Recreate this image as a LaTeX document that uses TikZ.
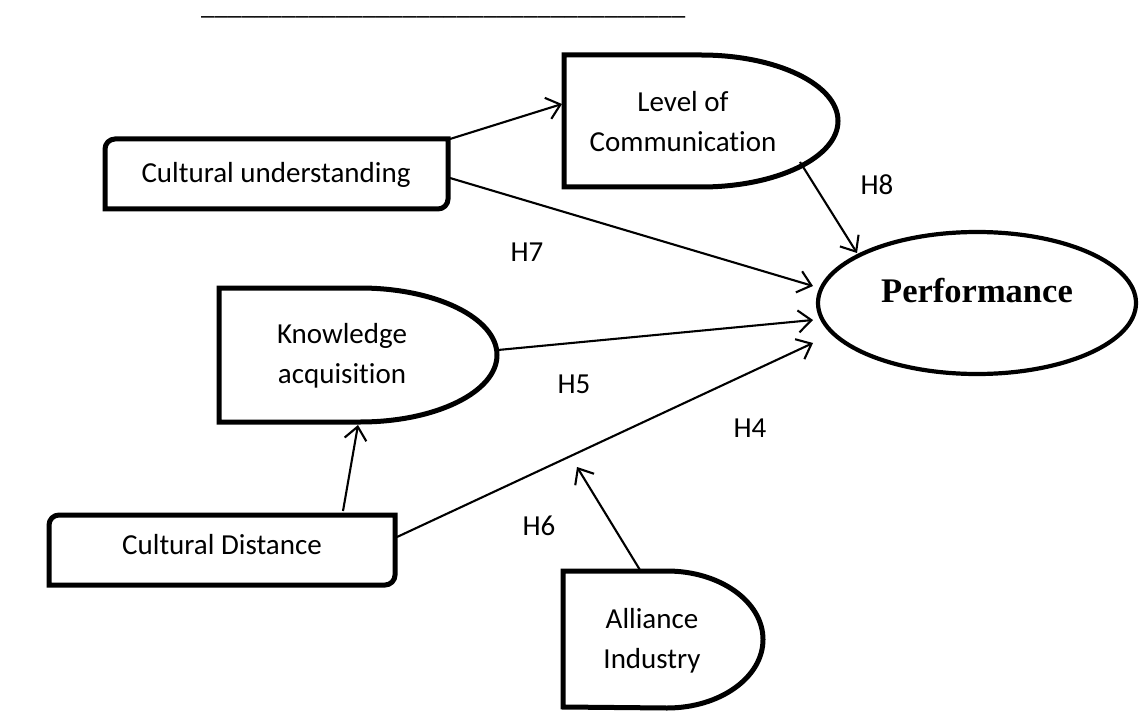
\documentclass[tikz,border=0pt]{standalone}
\usepackage{fontspec}
\setmainfont{Carlito}[Ligatures=NoCommon]
\newfontfamily\perffont{Liberation Serif}
\usetikzlibrary{arrows.meta,shapes.geometric}
\begin{document}
\begin{tikzpicture}[x=1pt,y=-1pt,
  shapeline/.style={line width=5pt, line join=miter},
  conn/.style={line width=2.1pt, -{Straight Barb[length=13pt,width=22pt,line width=2.1pt]}},
  lbl/.style={font=\fontsize{29}{40}\selectfont, align=center, inner sep=0pt},
  hyp/.style={font=\fontsize{29}{34}\selectfont, inner sep=0pt}]
\useasboundingbox (0,0) rectangle (1139,711);

% top rule of underscores
\node[font=\fontsize{27}{30}\selectfont, inner sep=0pt, anchor=base west] (rule) at (201,15) {\_\_\_\_\_\_\_\_\_\_\_\_\_\_\_\_\_\_\_\_\_\_\_\_\_\_\_\_\_\_\_\_\_\_\_\_};

% Cultural understanding
\draw[shapeline] (105,209) -- (105,149) arc[start angle=180,end angle=90,radius=10pt] -- (448,139) -- (448,199) arc[start angle=0,end angle=-90,radius=10pt] -- cycle;
\node[lbl] (cu) at (276,175) {Cultural understanding};

% Level of Communication
\draw[shapeline] (564,55) -- (701,55) arc[start angle=90,end angle=-90,x radius=137pt,y radius=66pt] -- (564,187) -- cycle;
\node[lbl] (loc) at (683,122) {Level of\\Communication};

% Knowledge acquisition
\draw[shapeline] (219,288) -- (360,288) arc[start angle=90,end angle=-90,x radius=137pt,y radius=67pt] -- (219,422) -- cycle;
\node[lbl] (ka) at (342,356) {Knowledge\\acquisition};

% Cultural Distance
\draw[shapeline] (49,585) -- (49,525) arc[start angle=180,end angle=90,radius=10pt] -- (395,515) -- (395,575) arc[start angle=0,end angle=-90,radius=10pt] -- cycle;
\node[lbl] (cd) at (222,545) {Cultural Distance};

% Alliance Industry
\draw[shapeline] (563,571) -- (667,571) arc[start angle=90,end angle=-90,x radius=96pt,y radius=68.5pt] -- (563,707) -- cycle;
\node[lbl] (ai) at (652,641) {Alliance\\Industry};

% Performance
\node[ellipse, draw, line width=4.2pt, minimum width=318pt, minimum height=142pt, inner sep=0pt] (perf) at (977,303) {};
\node[font=\perffont\bfseries\fontsize{34.5}{40}\selectfont, inner sep=0pt, anchor=base] (perftext) at (977,302) {Performance};

% connector end points
\coordinate (cuA) at (450,139);
\coordinate (locIn) at (562,104);
\coordinate (cuB) at (450,178);
\coordinate (perfIn1) at (813,286);
\coordinate (kaOut) at (498,350);
\coordinate (perfIn2) at (813,320);
\coordinate (cdOut) at (397,537);
\coordinate (perfIn3) at (813,343);
\coordinate (cdUp) at (343,511);
\coordinate (kaIn) at (358,425);
\coordinate (aiOut) at (640,570);
\coordinate (modTip) at (577,467);
\coordinate (locOut) at (800,162);
\coordinate (perfIn0) at (857,253);

\draw[conn] (cuA) -- (locIn);
\draw[conn] (cuB) -- (perfIn1);
\draw[conn] (kaOut) -- (perfIn2);
\draw[conn] (cdOut) -- (perfIn3);
\draw[conn] (cdUp) -- (kaIn);
\draw[conn] (aiOut) -- (modTip);
\draw[conn] (locOut) -- (perfIn0);

% hypothesis labels
\node[hyp] (h8) at (877,185) {H8};
\node[hyp] (h7) at (527,252) {H7};
\node[hyp] (h5) at (574,384) {H5};
\node[hyp] (h4) at (750,428) {H4};
\node[hyp] (h6) at (539,526) {H6};
\end{tikzpicture}
\end{document}
